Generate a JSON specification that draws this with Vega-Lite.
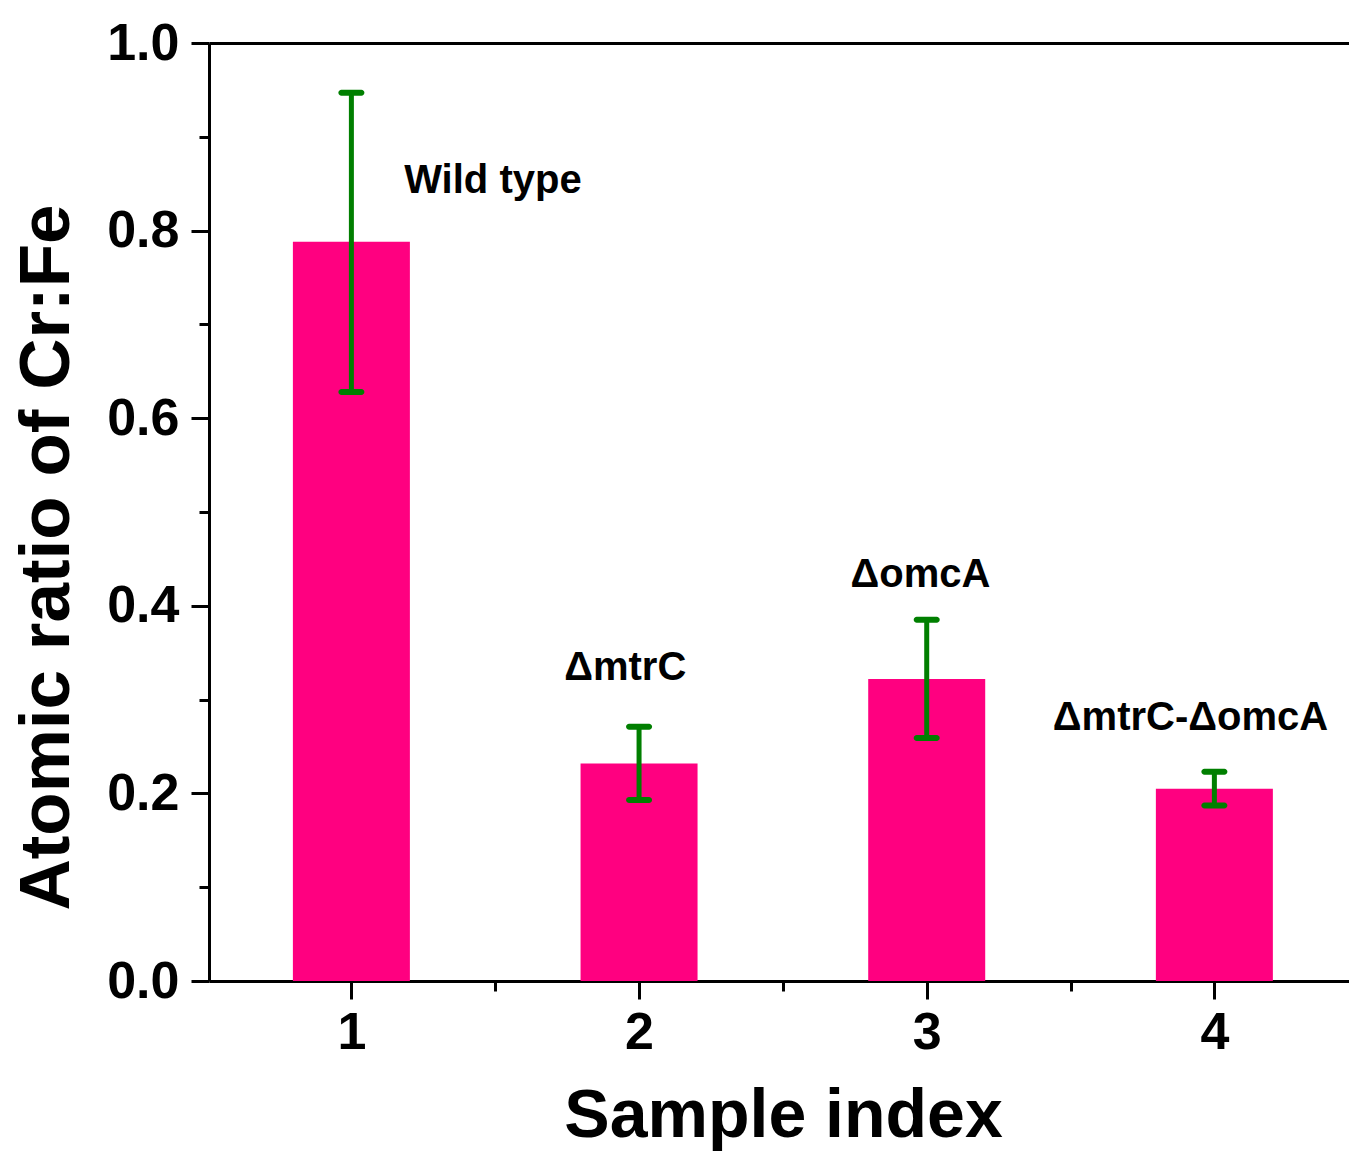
{
  "$schema": "https://vega.github.io/schema/vega-lite/v6.json",
  "autosize": {"type": "none"},
  "padding": {"left": 209, "top": 43, "right": 0, "bottom": 170},
  "width": 1140,
  "height": 938,
  "background": "white",
  "config": {
    "view": {"stroke": null},
    "axis": {
      "grid": false,
      "domainColor": "black",
      "domainWidth": 3,
      "tickColor": "black",
      "tickWidth": 3,
      "labelFont": "Liberation Sans",
      "labelFontWeight": "bold",
      "labelFontSize": 52,
      "labelColor": "black",
      "titleFont": "Liberation Sans",
      "titleFontWeight": "bold",
      "titleColor": "black"
    }
  },
  "datasets": {
    "bars": [
      {"index": 1, "value": 0.788, "lo": 0.628, "hi": 0.947},
      {"index": 2, "value": 0.232, "lo": 0.193, "hi": 0.271},
      {"index": 3, "value": 0.322, "lo": 0.259, "hi": 0.385},
      {"index": 4, "value": 0.205, "lo": 0.187, "hi": 0.223}
    ],
    "labels": [
      {"label": "Wild type", "lx": 1.492, "ly": 0.853},
      {"label": "ΔmtrC", "lx": 1.952, "ly": 0.334},
      {"label": "ΔomcA", "lx": 2.978, "ly": 0.433},
      {"label": "ΔmtrC-ΔomcA", "lx": 3.917, "ly": 0.280}
    ]
  },
  "layer": [
    {
      "data": {"name": "bars"},
      "mark": {"type": "bar", "orient": "vertical", "width": 117, "color": "#FF0080"},
      "encoding": {
        "x": {
          "field": "index", "type": "quantitative",
          "scale": {"domain": [0.505, 4.468], "nice": false, "zero": false, "padding": 0},
          "axis": {
            "orient": "bottom", "values": [1, 2, 3, 4], "format": "d",
            "tickSize": 18, "labelPadding": 8,
            "title": "Sample index", "titleFontSize": 68,
            "titleX": 574, "titleY": 155, "titleBaseline": "alphabetic", "titleAlign": "center"
          }
        },
        "y": {
          "field": "value", "type": "quantitative",
          "scale": {"domain": [0, 1], "nice": false, "padding": 0},
          "axis": {
            "orient": "left", "values": [0, 0.2, 0.4, 0.6, 0.8, 1.0], "format": ".1f",
            "tickSize": 18, "labelPadding": 12,
            "title": "Atomic ratio of Cr:Fe", "titleFontSize": 71,
            "titleX": -141, "titleY": 514, "titleBaseline": "alphabetic", "titleAlign": "center", "titleAngle": -90
          }
        }
      }
    },
    {
      "data": {"name": "bars"},
      "mark": {"type": "rule", "color": "#007F00", "strokeWidth": 5},
      "encoding": {
        "x": {
          "field": "index", "type": "quantitative",
          "axis": {"orient": "bottom", "values": [0.5, 1.5, 2.5, 3.5], "labels": false, "domain": false, "tickSize": 10, "title": null}
        },
        "y": {
          "field": "lo", "type": "quantitative",
          "axis": {"orient": "left", "values": [0.1, 0.3, 0.5, 0.7, 0.9], "labels": false, "domain": false, "tickSize": 10, "title": null}
        },
        "y2": {"field": "hi"}
      }
    },
    {
      "data": {"name": "bars"},
      "mark": {"type": "tick", "orient": "horizontal", "size": 26, "thickness": 6, "cornerRadius": 3, "color": "#007F00", "opacity": 1},
      "encoding": {
        "x": {"field": "index", "type": "quantitative", "axis": null},
        "y": {"field": "hi", "type": "quantitative", "axis": null}
      }
    },
    {
      "data": {"name": "bars"},
      "mark": {"type": "tick", "orient": "horizontal", "size": 26, "thickness": 6, "cornerRadius": 3, "color": "#007F00", "opacity": 1},
      "encoding": {
        "x": {"field": "index", "type": "quantitative", "axis": null},
        "y": {"field": "lo", "type": "quantitative", "axis": null}
      }
    },
    {
      "data": {"name": "labels"},
      "mark": {"type": "text", "font": "Liberation Sans", "fontWeight": "bold", "fontSize": 40, "color": "black", "align": "center", "baseline": "middle"},
      "encoding": {
        "x": {
          "field": "lx", "type": "quantitative",
          "axis": {"orient": "top", "ticks": false, "labels": false, "domain": true, "title": null}
        },
        "y": {"field": "ly", "type": "quantitative", "axis": null},
        "text": {"field": "label"}
      }
    }
  ],
  "resolve": {"axis": {"x": "independent", "y": "independent"}}
}
